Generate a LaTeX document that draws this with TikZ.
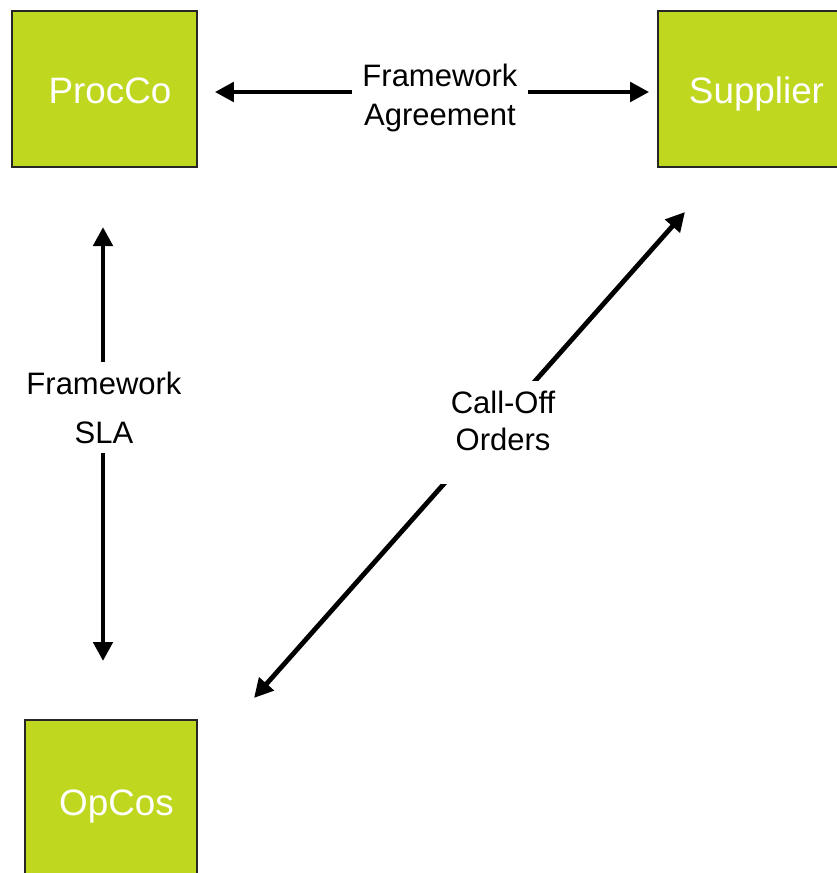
\documentclass[tikz,border=0pt]{standalone}
\usepackage{fontspec}
\setmainfont{Liberation Sans}
\usetikzlibrary{arrows.meta}
\definecolor{boxgreen}{RGB}{191,215,30}
\tikzset{
  entity/.style={draw=black!85, line width=1.6pt, fill=boxgreen, text=white,
    font=\fontsize{36.8}{44}\selectfont, inner sep=0pt, text height=30pt, text depth=2pt},
  relation/.style={line width=4.8pt, {Triangle[length=19pt,width=19pt]}-{Triangle[length=19pt,width=19pt]}},
  lbl/.style={fill=white, align=center, inner xsep=10pt, inner ysep=10pt}
}
\begin{document}
\begin{tikzpicture}[x=1pt,y=-1pt]
\useasboundingbox (0,0) rectangle (837,873);
\node[entity, minimum width=185pt, minimum height=156pt] (procco) at (104.5,89) {\hspace*{11pt}ProcCo};
\node[entity, minimum width=186pt, minimum height=156pt] (supplier) at (751,89) {\hspace*{11pt}Supplier};
\node[entity, minimum width=172pt, minimum height=162pt] (opcos) at (111,801) {\hspace*{11pt}OpCos};
\coordinate (slaTop) at (103,227);
\coordinate (slaBot) at (103,661);
\coordinate (coTop) at (685,212);
\coordinate (coBot) at (254,698);
\draw[relation, shorten <=17pt, shorten >=8pt] (procco.east |- 0,92) coordinate (faL) -- (supplier.west |- 0,92) coordinate (faR);
\draw[relation] (slaTop) -- (slaBot);
\draw[relation] (coBot) -- (coTop);
\node[lbl, font=\fontsize{31}{39}\selectfont] (fa) at (440,98) {Framework\\Agreement};
\node[lbl, font=\fontsize{31}{49}\selectfont] (sla) at (104,407.5) {Framework\\SLA};
\node[lbl, font=\fontsize{31}{37}\selectfont] (co) at (503,432.5) {Call-Off\\Orders\rule[-23pt]{0pt}{23pt}};
\end{tikzpicture}
\end{document}
